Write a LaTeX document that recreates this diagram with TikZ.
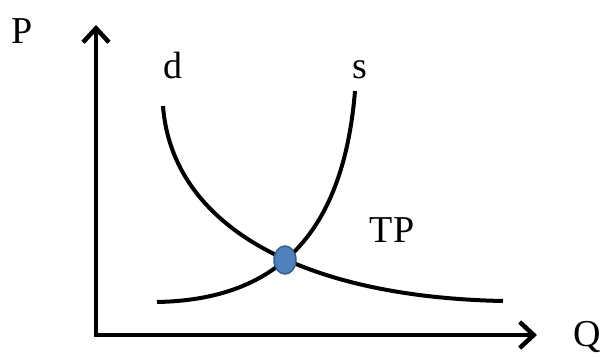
\documentclass[tikz,border=0pt]{standalone}
\usepackage{fontspec}
\setmainfont{Liberation Serif}
\usetikzlibrary{arrows.meta,shapes.geometric}
\definecolor{dotfill}{HTML}{4F81BD}
\definecolor{dotline}{HTML}{385D8A}
\begin{document}
\begin{tikzpicture}[x=1pt,y=-1pt,
  axis/.style={line width=4.5pt,-{Straight Barb[length=14pt,width=26pt,line width=4.5pt]}},
  curve/.style={line width=4pt},
  lbl/.style={inner sep=0pt,anchor=base,font=\fontsize{38}{40}\selectfont}]
\useasboundingbox (0,0) rectangle (604,356);
\coordinate (O) at (96,335);
\coordinate (Ptop) at (96,25);
\coordinate (Qend) at (537,335);
\draw[axis] (O) -- (Ptop);
\draw[axis] ([xshift=-2.25pt]O) -- (Qend);
\coordinate (d0) at (163,106);
\coordinate (d1) at (503,301);
\coordinate (s0) at (157,302);
\coordinate (s1) at (355,91);
\draw[curve] (d0) .. controls (172,225) and (300,297) .. (d1);
\draw[curve] (s0) .. controls (262,300) and (342,250) .. (s1);
\node[ellipse,draw=dotline,fill=dotfill,line width=1.5pt,minimum width=22pt,minimum height=28pt,inner sep=0pt] (eq) at (285,260) {};
\node[lbl] (P) at (22,43) {P};
\node[lbl] (Q) at (587,346) {Q};
\node[lbl] (d) at (173,78) {d};
\node[lbl] (s) at (360,78) {s};
\node[lbl] (TP) at (392,242) {TP};
\end{tikzpicture}
\end{document}
